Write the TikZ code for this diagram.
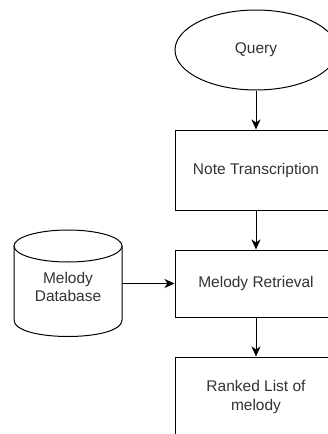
\documentclass[tikz,border=0pt]{standalone}
\usepackage{fontspec}
\setmainfont{Liberation Sans}
\usetikzlibrary{arrows.meta,shapes.geometric}
\definecolor{txt}{HTML}{333333}
\tikzset{
  every node/.style={font=\fontsize{15.5}{18.5}\selectfont, text=txt},
  procbox/.style={draw=black, line width=1pt, rectangle, minimum width=162pt, align=center, inner sep=0pt},
  flow/.style={draw=black, line width=1pt, -{Stealth[length=10pt,width=9pt,inset=3pt]}},
}
\begin{document}
\begin{tikzpicture}[x=1pt,y=-1pt]
\useasboundingbox (0,0) rectangle (328,434);
\clip (0,0) rectangle (328,434);
\fill[white] (0,0) rectangle (328,434);
% Query ellipse
\node[draw=black, line width=1pt, ellipse, minimum width=162pt, minimum height=80pt, inner sep=0pt] (query) at (256,50) {Query};
% boxes
\node[procbox, minimum height=80pt] (note) at (256,170) {Note Transcription};
\node[procbox, minimum height=67pt] (retr) at (256,283.5) {Melody Retrieval};
\node[procbox, minimum height=80pt] (rank) at (256,397) {Ranked List of\\melody};
% cylinder
\draw[line width=1pt] (68,246) ellipse [x radius=54, y radius=16];
\draw[line width=1pt] (14,246) -- (14,320) .. controls (14,342) and (122,342) .. (122,320) -- (122,246);
\node[align=center, inner sep=0pt] (db) at (68,287) {Melody\\Database};
\coordinate (dbr) at (122,283.5);
% connectors
\draw[flow] (query) -- (note);
\draw[flow] (note) -- (retr);
\draw[flow] (retr) -- (rank);
\draw[flow] (dbr) -- (retr.west);
\end{tikzpicture}
\end{document}
